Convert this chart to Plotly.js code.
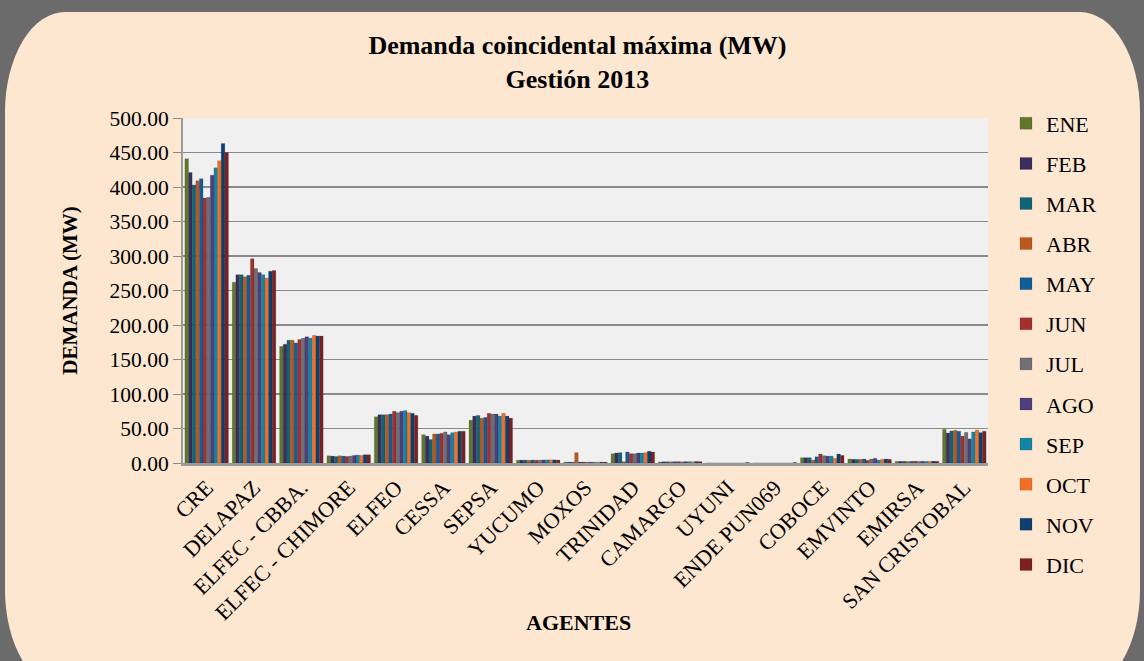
<!DOCTYPE html>
<html>
<head>
<meta charset="utf-8">
<script src="https://cdn.plot.ly/plotly-3.0.1.min.js"></script>
<style>
  html, body { margin:0; padding:0; width:1144px; height:661px; overflow:hidden; background:#6b6b6b; }
  #panel { position:absolute; left:5px; top:12px; width:1135px; height:678px; background:#fee7d1; border-radius:60px 60px 60px 60px / 100px 100px 100px 100px; }
  #chart { position:absolute; left:0; top:0; width:1144px; height:661px; }
</style>
</head>
<body>
<div id="panel"></div>
<div id="chart"></div>
<script>
const agentes = ["CRE","DELAPAZ","ELFEC - CBBA.","ELFEC - CHIMORE","ELFEO","CESSA","SEPSA","YUCUMO","MOXOS","TRINIDAD","CAMARGO","UYUNI","ENDE PUN069","COBOCE","EMVINTO","EMIRSA","SAN CRISTOBAL"];
const meses = ["ENE","FEB","MAR","ABR","MAY","JUN","JUL","AGO","SEP","OCT","NOV","DIC"];

const ENE = [441,262,169,10.5,67,41,62,4.0,1.2,13.5,1.5,0,0,7.7,5.8,2.4,48.8];
const FEB = [421,273,172,10.0,70,39,68,4.2,1.2,14.5,1.8,0,0,7.7,5.3,2.4,43.5];
const MAR = [403,273,178,9.5,70,34,69,4.2,1.2,15.0,1.8,0,0,7.7,5.3,2.5,46.4];
const ABR = [409,270,178,10.5,70,42,65,4.0,15.0,2.0,1.8,0,0,4.3,5.3,2.3,47.3];
const MAY = [412,272,174,10.0,71,42,66,4.3,1.5,16.0,2.0,0,0,9.0,5.8,2.4,46.0];
const JUN = [384,296,179,9.5,75,43,72,4.0,1.5,13.5,2.0,0,0,13.0,3.9,2.6,39.0];
const JUL = [385,282,181,10.0,73,45,71,4.2,1.3,13.5,1.8,0,0,10.6,5.8,2.4,44.4];
const AGO = [417,276,183,11.0,75,41,71,4.5,1.3,14.5,2.0,0,0,10.0,6.8,2.5,35.0];
const SEP = [428,273,181,11.5,76,44,68,4.5,1.2,14.5,2.0,0,0,10.0,4.3,2.4,45.0];
const OCT = [438,268,185,11.0,73,45,72,4.6,1.2,15.0,2.0,0,0,6.8,5.3,2.5,47.8];
const NOV = [463,278,184,12.0,72,46,68,4.5,1.3,17.0,2.2,0,0,13.0,5.8,2.6,44.0];
const DIC = [450,279,184,12.0,69,46,65,4.3,1.3,16.0,2.0,0.8,0.8,11.0,5.3,2.5,46.0];

const series = [ENE,FEB,MAR,ABR,MAY,JUN,JUL,AGO,SEP,OCT,NOV,DIC];
const colores = ["#61782c","#3b2d5c","#0f6479","#b9591e","#115c99","#a32f30","#6d7074","#4e3f7e","#1285a6","#f46f26","#0c4070","#7b2123"];

const FONT = "'Liberation Serif', 'DejaVu Serif', serif";

const traces = series.map((vals, i) => ({
  type: 'bar',
  name: meses[i],
  x: agentes,
  y: vals,
  legendgroup: meses[i],
  marker: { color: colores[i], line: { color: 'rgba(0,0,0,0.25)', width: 0.5 } },
  hoverinfo: 'x+y+name'
}));

const layout = {
  width: 1144,
  height: 661,
  paper_bgcolor: 'rgba(0,0,0,0)',
  plot_bgcolor: '#f0f0f0',
  margin: { l: 183, r: 156, t: 118, b: 198, pad: 0 },
  barmode: 'group',
  bargap: 0.08,
  bargroupgap: 0,
  font: { family: FONT, color: '#000', size: 18 },
  title: {
    text: '<b>Demanda coincidental máxima (MW)<br>Gestión 2013</b>',
    font: { family: FONT, size: 26, color: '#000' },
    x: 0.49, xref: 'paper', xanchor: 'center',
    y: 1 - 54/661, yref: 'container', yanchor: 'middle'
  },
  xaxis: {
    type: 'category',
    tickangle: -45,
    tickfont: { family: FONT, size: 22, color: '#000' },
    showgrid: false,
    showline: true, linecolor: '#9a9a9a', linewidth: 3,
    ticks: '',
    automargin: false
  },
  yaxis: {
    range: [0, 500],
    dtick: 50,
    tickformat: '.2f',
    tickfont: { family: FONT, size: 21.5, color: '#000' },
    showgrid: true, gridcolor: '#8a8a8a', gridwidth: 1.5,
    zeroline: false,
    showline: true, linecolor: '#9a9a9a', linewidth: 2,
    ticks: 'outside', ticklen: 8, tickcolor: '#8a8a8a', tickwidth: 1,
    automargin: false,
    title: { text: '<b>DEMANDA (MW)</b>', font: { family: FONT, size: 21, color: '#000' }, standoff: 26 }
  },
  annotations: [{
    text: '<b>AGENTES</b>',
    xref: 'paper', yref: 'paper',
    x: (578 - 183) / 805, y: (463 - 622) / 345,
    xanchor: 'center', yanchor: 'middle',
    showarrow: false,
    font: { family: FONT, size: 22, color: '#000' }
  }],
  legend: {
    x: (1006 - 183) / 805, xanchor: 'left',
    y: 1.045, yanchor: 'top',
    bgcolor: 'rgba(0,0,0,0)',
    font: { family: FONT, size: 22, color: '#000' },
    tracegroupgap: 8.5,
    traceorder: 'grouped',
    maxheight: 600,
    itemwidth: 30
  },
  showlegend: true
};

Plotly.newPlot('chart', traces, layout, { displayModeBar: false, staticPlot: true });
</script>
</body>
</html>
